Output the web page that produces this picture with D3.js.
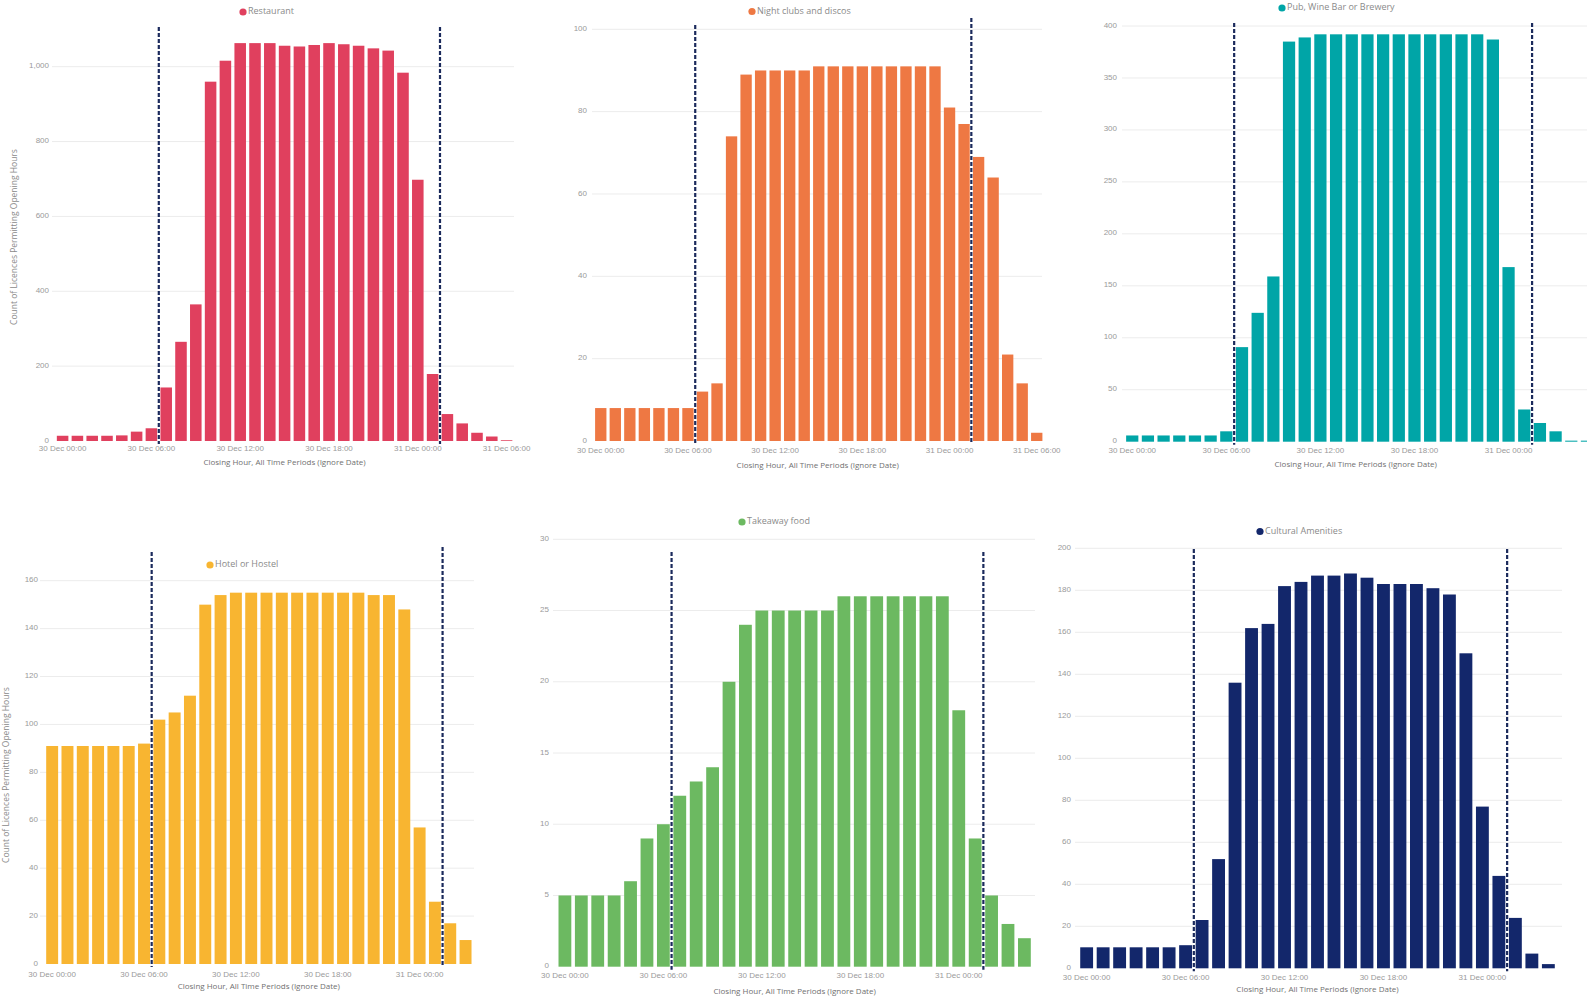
<!DOCTYPE html>
<html>
<head>
<meta charset="utf-8">
<script src="https://cdnjs.cloudflare.com/ajax/libs/d3/7.8.5/d3.min.js"></script>
<style>
  html, body { margin: 0; padding: 0; background: #fff; }
  svg { display: block; font-family: "Open Sans", "Noto Sans", sans-serif; }
</style>
</head>
<body>
<svg id="chart" width="1587" height="1000"></svg>
<script>
// ---------- DATA ----------
const hourLabels = [
  "30 Dec 00:00","30 Dec 01:00","30 Dec 02:00","30 Dec 03:00","30 Dec 04:00","30 Dec 05:00",
  "30 Dec 06:00","30 Dec 07:00","30 Dec 08:00","30 Dec 09:00","30 Dec 10:00","30 Dec 11:00",
  "30 Dec 12:00","30 Dec 13:00","30 Dec 14:00","30 Dec 15:00","30 Dec 16:00","30 Dec 17:00",
  "30 Dec 18:00","30 Dec 19:00","30 Dec 20:00","30 Dec 21:00","30 Dec 22:00","30 Dec 23:00",
  "31 Dec 00:00","31 Dec 01:00","31 Dec 02:00","31 Dec 03:00","31 Dec 04:00","31 Dec 05:00",
  "31 Dec 06:00"
];
const xTickLabels = ["30 Dec 00:00","30 Dec 06:00","30 Dec 12:00","30 Dec 18:00","31 Dec 00:00","31 Dec 06:00"];
const seriesNames = ["Restaurant","Night clubs and discos","Pub, Wine Bar or Brewery","Hotel or Hostel","Takeaway food","Cultural Amenities"];

const restaurant = [14,14,14,14,15,25,34,143,265,365,960,1016,1063,1063,1063,1056,1054,1058,1063,1060,1056,1049,1043,984,698,179,72,47,22,12,2];
const nightClubs = [8,8,8,8,8,8,8,12,14,74,89,90,90,90,90,91,91,91,91,91,91,91,91,91,81,77,69,64,21,14,2];
const pubWineBar = [6,6,6,6,6,6,10,91,124,159,385,389,392,392,392,392,392,392,392,392,392,392,392,387,168,31,18,10,1,1,1];
const hotelHostel = [91,91,91,91,91,91,92,102,105,112,150,154,155,155,155,155,155,155,155,155,155,154,154,148,57,26,17,10];
const takeawayFood = [5,5,5,5,6,9,10,12,13,14,20,24,25,25,25,25,25,26,26,26,26,26,26,26,18,9,5,3,2];
const culturalAmenities = [10,10,10,10,10,10,11,23,52,136,162,164,182,184,187,187,188,186,183,183,183,181,178,150,77,44,24,7,2];

// y-axis tick values per panel
const ticksRestaurant = [0,200,400,600,800,1000];
const ticksNight = [0,20,40,60,80,100];
const ticksPub = [0,50,100,150,200,250,300,350,400];
const ticksHotel = [0,20,40,60,80,100,120,140,160];
const ticksTakeaway = [0,5,10,15,20,25,30];
const ticksCultural = [0,20,40,60,80,100,120,140,160,180,200];

// reference lines (hour position, between bars): 06:30 and 01:30 next day
const markerHours = [6.5, 25.5];

const yTitle = "Count of Licences Permitting Opening Hours";
const xTitle = "Closing Hour, All Time Periods (Ignore Date)";

// ---------- LAYOUT / STYLE ----------
const W = 1587;
const panels = [
  { name: seriesNames[0], values: restaurant, ticks: ticksRestaurant, color: "#E0405E", fmt: d3.format(","),
    x0: 55.2, x1: 514, base: 441, topPx: 66.7, gx0: 52, gx1: 514, yLabX: 49,
    leg: [243, 12], xlabY: 449, xtitY: 463, mTop: [27, 27], yTitle: [15, 237] },
  { name: seriesNames[1], values: nightClubs, ticks: ticksNight, color: "#EE7843", fmt: d3.format(","),
    x0: 593.5, x1: 1044, base: 441, topPx: 29.3, gx0: 592, gx1: 1042, yLabX: 587,
    leg: [752, 11.5], xlabY: 451.5, xtitY: 466, mTop: [25, 18] },
  { name: seriesNames[2], values: pubWineBar, ticks: ticksPub, color: "#00A5A7", fmt: d3.format(","),
    x0: 1124.4, x1: 1124.4 + 31 * 15.68, base: 441.7, topPx: 26, gx0: 1122, gx1: 1587, yLabX: 1117,
    leg: [1282, 8], xlabY: 451.5, xtitY: 465, mTop: [23, 23] },
  { name: seriesNames[3], values: hotelHostel, ticks: ticksHotel, color: "#F8B531", fmt: d3.format(","),
    x0: 44.5, x1: 473.2, base: 964, topPx: 580.7, gx0: 40, gx1: 474, yLabX: 38,
    leg: [210, 565], xlabY: 975, xtitY: 987, mTop: [552, 547], yTitle: [7, 775] },
  { name: seriesNames[4], values: takeawayFood, ticks: ticksTakeaway, color: "#6CB961", fmt: d3.format(","),
    x0: 556.7, x1: 1032.6, base: 966.7, topPx: 539.3, gx0: 553, gx1: 1035, yLabX: 549,
    leg: [742, 522], xlabY: 976.5, xtitY: 992, mTop: [552, 552] },
  { name: seriesNames[5], values: culturalAmenities, ticks: ticksCultural, color: "#13276B", fmt: d3.format(","),
    x0: 1078.4, x1: 1556.6, base: 968.3, topPx: 548.3, gx0: 1075, gx1: 1562, yLabX: 1071,
    leg: [1260, 531.5], xlabY: 978.5, xtitY: 990, mTop: [549, 549] }
];

const svg = d3.select("#chart");

panels.forEach(p => {
  const n = p.values.length;
  const cats = hourLabels.slice(0, n);
  const g = svg.append("g");

  const x = d3.scaleBand().domain(cats).range([p.x0, p.x1]).paddingInner(0.22).paddingOuter(0.11);
  const xh = d3.scaleLinear().domain([-0.5, n - 0.5]).range([p.x0, p.x1]);
  const topVal = p.ticks[p.ticks.length - 1];
  const y = d3.scaleLinear().domain([0, topVal]).range([p.base, p.topPx]);

  // gridlines
  g.append("g").selectAll("line").data(p.ticks.filter(t => t > 0)).join("line")
    .attr("x1", p.gx0).attr("x2", p.gx1)
    .attr("y1", d => y(d)).attr("y2", d => y(d))
    .attr("stroke", "#ececec").attr("stroke-width", 1);

  // y axis
  const yAxis = d3.axisLeft(y).tickValues(p.ticks).tickSize(0).tickPadding(0).tickFormat(p.fmt);
  const ya = g.append("g").attr("transform", `translate(${p.yLabX},-1.5)`).call(yAxis);
  ya.select(".domain").remove();
  ya.selectAll("text").attr("fill", "#9a9a9a").style("font-size", "8px");

  // bars
  g.append("g").selectAll("rect").data(p.values).join("rect")
    .attr("x", (d, i) => x(cats[i]))
    .attr("width", x.bandwidth())
    .attr("y", d => y(d))
    .attr("height", d => Math.max(0, p.base - y(d)))
    .attr("fill", p.color);

  // x axis (only labels whose text fits inside the page)
  const shownTicks = xTickLabels.filter(t => cats.includes(t) && x(t) + x.bandwidth() / 2 + 26 < W);
  const xAxis = d3.axisBottom(x).tickValues(shownTicks).tickSize(0).tickPadding(0);
  const xa = g.append("g").attr("transform", `translate(0,${p.xlabY - 4})`).call(xAxis);
  xa.select(".domain").remove();
  xa.selectAll("text").attr("fill", "#9a9a9a").style("font-size", "8px").attr("dy", "0.71em");

  // x title
  g.append("text").attr("x", (p.x0 + Math.min(p.x1, p.gx1)) / 2).attr("y", p.xtitY)
    .attr("text-anchor", "middle").attr("dominant-baseline", "middle")
    .attr("fill", "#707070").style("font-size", "8px").text(xTitle);

  // y title
  if (p.yTitle) {
    g.append("text")
      .attr("transform", `translate(${p.yTitle[0]},${p.yTitle[1]}) rotate(-90)`)
      .attr("text-anchor", "middle").attr("dominant-baseline", "middle")
      .attr("fill", "#8a8a8a").style("font-size", "8.5px").text(yTitle);
  }

  // reference dashed lines
  g.append("g").selectAll("line").data(markerHours).join("line")
    .attr("x1", d => xh(d)).attr("x2", d => xh(d))
    .attr("y1", (d, i) => p.mTop[i]).attr("y2", p.base + 3)
    .attr("stroke", "#1B2A5C").attr("stroke-width", 2.2)
    .attr("stroke-dasharray", "4,2");

  // legend
  const lg = g.append("g").attr("transform", `translate(${p.leg[0]},${p.leg[1]})`);
  lg.append("circle").attr("r", 3.6).attr("fill", p.color);
  lg.append("text").attr("x", 5).attr("y", 0).attr("dominant-baseline", "middle")
    .attr("fill", "#8a8a8a").style("font-size", "9px").text(p.name);
});
</script>
</body>
</html>
